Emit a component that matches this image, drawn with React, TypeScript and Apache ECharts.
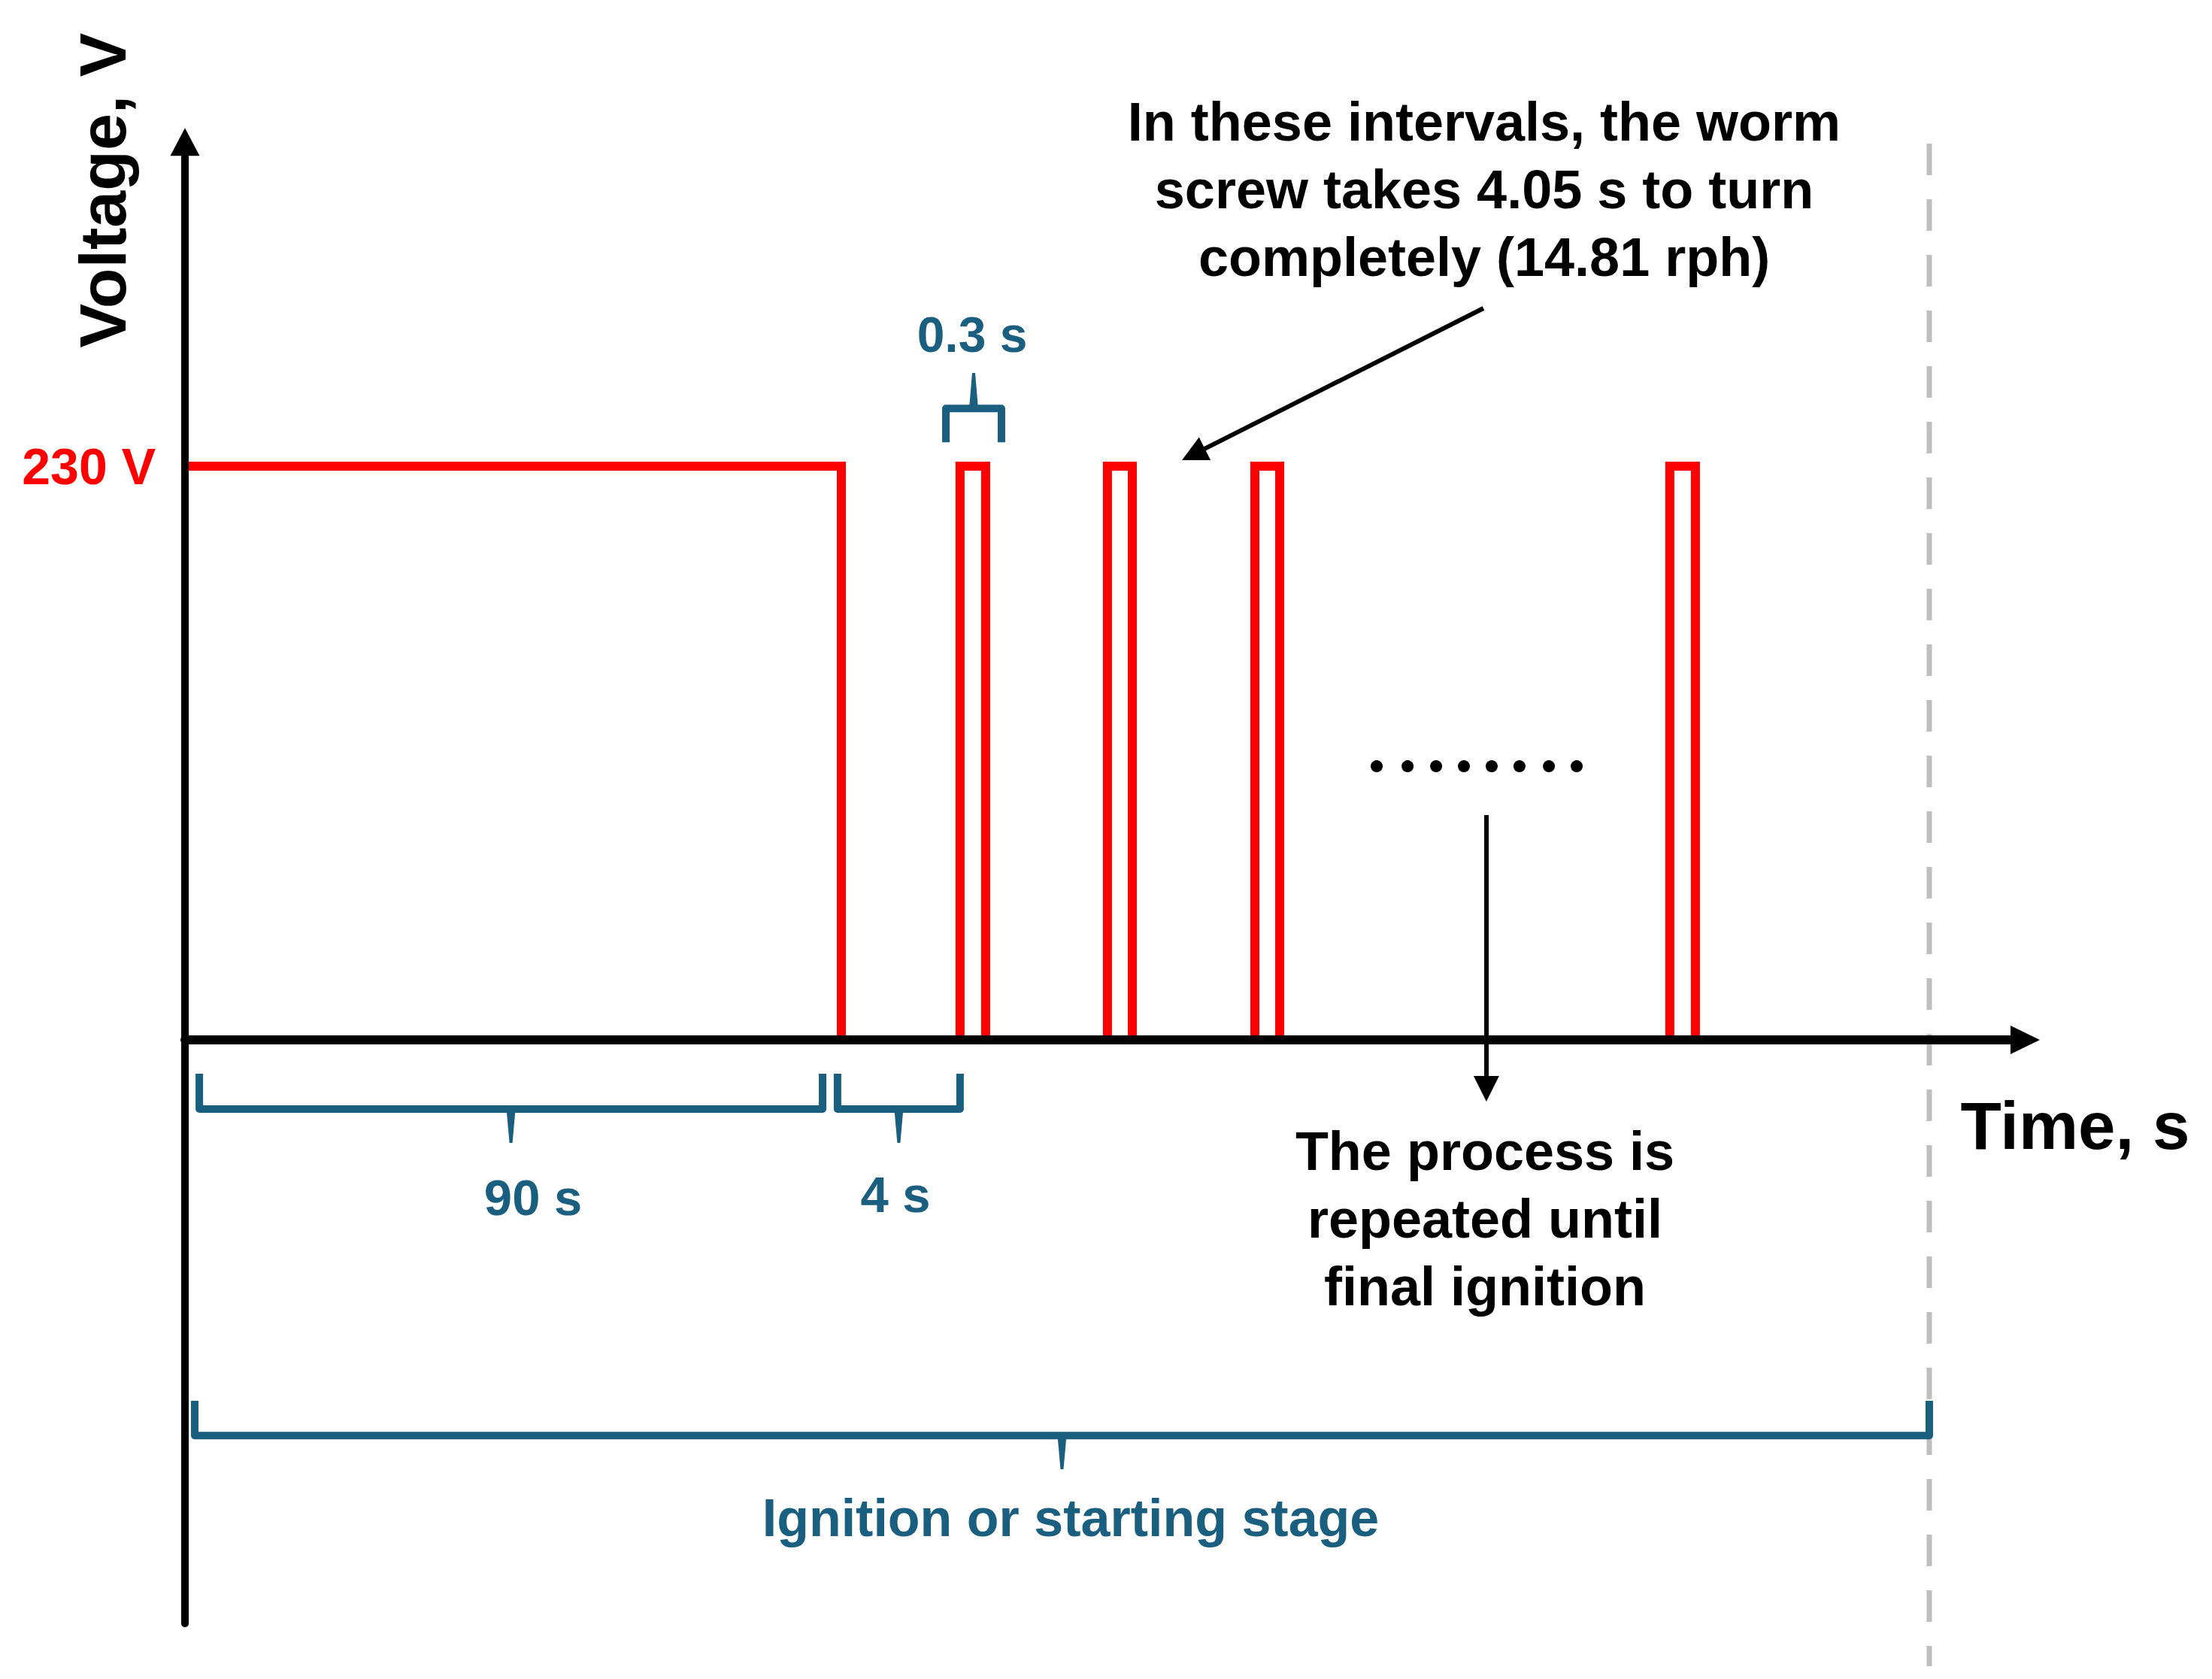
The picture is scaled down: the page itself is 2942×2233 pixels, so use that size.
import React, { useEffect, useRef } from "react";
import * as echarts from "echarts";

const FONT = '"Liberation Sans", Arial, Helvetica, sans-serif';
const RED = "#ff0000";
const BLUE = "#1a5e80";
const GRAY = "#bfbfbf";

// ---- axes (schematic, not to scale) ----
const xMin = 0;
const xMax = 100;
const yMin = -234;
const yMax = 360;
const yLabelValues = [230];

// ---- voltage trace ----
const supplyVoltage = 230;
const preheatEnd = 35.67;
const pulseStarts = [42.12, 50.13, 58.14, 80.69];
const pulseEnds = [43.51, 51.48, 59.49, 82.08];

// ---- end of ignition stage (dashed marker) ----
const stageEnd = 94.79;
const stageLineTop = 359.3;
const stageLineBottom = -251.1;

// ---- "......" dots ----
const dotXs = [64.76, 66.44, 67.99, 69.5, 71.01, 72.52, 74.12, 75.63];
const dotY = 109.7;

// ---- braces ----
const braceLabels = ["0.3 s", "90 s", "4 s", "Ignition or starting stage"];
const braceStarts = [41.35, 0.78, 35.46, 0.53];
const braceEnds = [44.37, 34.65, 42.12, 94.79];
const braceLegY = [239.6, -13.6, -13.6, -144.7];
const braceBarY = [253.1, -27.7, -27.7, -158.6];
const braceTipY = [267.4, -41.3, -41.3, -172.1];
const braceLabelX = [42.78, 18.92, 38.61, 48.13];
const braceLabelY = [282.8, -63.0, -61.8, -191.7];
const braceLabelSize = [66, 67, 67, 70];

// ---- annotation arrows ----
const arrowFrom = [
  [70.56, 293.3],
  [70.72, 90.1],
];
const arrowTo = [
  [54.8, 234.7],
  [70.72, -19.6],
];

// ---- texts ----
const yAxisTitle = "Voltage, V";
const xAxisTitle = "Time, s";
const noteTop = [
  "In these intervals, the worm",
  "screw takes 4.05 s to turn",
  "completely (14.81 rph)",
];
const noteBottom = ["The process is", "repeated until", "final ignition"];

export default function App() {
  const ref = useRef<HTMLDivElement>(null);

  useEffect(() => {
    if (!ref.current) return;
    const chart = echarts.init(ref.current, undefined, { renderer: "svg" });

    const redLine = {
      color: RED,
      width: 12,
      join: "miter" as const,
      cap: "butt" as const,
    };

    const traceSeries: any[] = [
      {
        type: "line",
        symbol: "none",
        silent: true,
        lineStyle: redLine,
        data: [
          [xMin, supplyVoltage],
          [preheatEnd, supplyVoltage],
          [preheatEnd, 0],
        ],
        z: 2,
      },
      ...pulseStarts.map((s, i) => ({
        type: "line",
        symbol: "none",
        silent: true,
        lineStyle: redLine,
        data: [
          [s, 0],
          [s, supplyVoltage],
          [pulseEnds[i], supplyVoltage],
          [pulseEnds[i], 0],
        ],
        z: 2,
      })),
    ];

    const braceData = braceStarts.map((s, i) => [
      s,
      braceEnds[i],
      braceLegY[i],
      braceBarY[i],
      braceTipY[i],
      braceLabelX[i],
      braceLabelY[i],
    ]);

    const option: any = {
      animation: false,
      backgroundColor: "#ffffff",
      grid: {
        left: 246,
        top: 188.7,
        width: 2447.5,
        height: 1970.6,
        containLabel: false,
      },
      xAxis: {
        type: "value",
        min: xMin,
        max: xMax,
        z: 5,
        axisLine: {
          show: true,
          onZero: true,
          symbol: ["none", "triangle"],
          symbolSize: [38, 39],
          lineStyle: { color: "#000", width: 12 },
        },
        axisTick: { show: false },
        axisLabel: { show: false },
        splitLine: { show: false },
      },
      yAxis: {
        type: "value",
        min: yMin,
        max: yMax,
        z: 5,
        axisLine: {
          show: true,
          onZero: false,
          symbol: ["none", "triangle"],
          symbolSize: [39, 37],
          lineStyle: { color: "#000", width: 10 },
        },
        axisTick: { show: false },
        splitLine: { show: false },
        axisLabel: {
          show: true,
          customValues: yLabelValues,
          formatter: (v: number) => `${v} V`,
          color: RED,
          fontFamily: FONT,
          fontWeight: "bold",
          fontSize: 68,
          margin: 39,
          padding: [0, 0, 20, 0],
        },
      },
      series: [
        ...traceSeries,
        {
          type: "line",
          symbol: "none",
          silent: true,
          clip: false,
          lineStyle: { color: GRAY, width: 7, type: [42, 32] },
          data: [
            [stageEnd, stageLineTop],
            [stageEnd, stageLineBottom],
          ],
          z: 1,
        },
        {
          type: "scatter",
          silent: true,
          symbol: "circle",
          symbolSize: 16,
          itemStyle: { color: "#000", opacity: 1 },
          data: dotXs.map((x) => [x, dotY]),
          markLine: {
            silent: true,
            symbol: ["none", "triangle"],
            symbolSize: 34,
            label: { show: false },
            lineStyle: { color: "#000", width: 6, type: "solid", opacity: 1 },
            itemStyle: { color: "#000", opacity: 1 },
            emphasis: { disabled: true },
            data: arrowFrom.map((f, i) => [
              { coord: f },
              { coord: arrowTo[i] },
            ]),
          },
        },
        {
          type: "custom",
          silent: true,
          clip: false,
          encode: { x: [0, 1, 5], y: [2, 3, 4, 6] },
          data: braceData,
          renderItem: (params: any, api: any) => {
            const x0 = api.value(0);
            const x1 = api.value(1);
            const yl = api.value(2);
            const yb = api.value(3);
            const yt = api.value(4);
            const lx = api.value(5);
            const ly = api.value(6);
            const pL = api.coord([x0, yl]);
            const pB0 = api.coord([x0, yb]);
            const pB1 = api.coord([x1, yb]);
            const pR = api.coord([x1, yl]);
            const xc = (pB0[0] + pB1[0]) / 2;
            const pT = api.coord([(x0 + x1) / 2, yt]);
            const lab = api.coord([lx, ly]);
            const idx = params.dataIndex;
            return {
              type: "group",
              children: [
                {
                  type: "polyline",
                  shape: { points: [pL, pB0, pB1, pR] },
                  style: {
                    stroke: BLUE,
                    lineWidth: 10,
                    fill: null,
                    lineJoin: "round",
                  },
                },
                {
                  type: "polygon",
                  shape: {
                    points: [
                      [xc - 6, pB0[1]],
                      [xc + 6, pB0[1]],
                      [xc + 2, pT[1]],
                      [xc - 2, pT[1]],
                    ],
                  },
                  style: { fill: BLUE },
                },
                {
                  type: "text",
                  x: lab[0],
                  y: lab[1],
                  style: {
                    text: braceLabels[idx],
                    fill: BLUE,
                    font: `bold ${braceLabelSize[idx]}px ${FONT}`,
                    textAlign: "center",
                    textVerticalAlign: "middle",
                    align: "center",
                    verticalAlign: "middle",
                  },
                },
              ],
            };
          },
        },
      ],
      graphic: [
        {
          type: "text",
          x: 136,
          y: 253,
          rotation: Math.PI / 2,
          style: {
            text: yAxisTitle,
            fill: "#000",
            font: `bold 88px ${FONT}`,
            textAlign: "center",
            textVerticalAlign: "middle",
          },
        },
        {
          type: "text",
          x: 2760,
          y: 1497,
          style: {
            text: xAxisTitle,
            fill: "#000",
            font: `bold 89px ${FONT}`,
            textAlign: "center",
            textVerticalAlign: "middle",
          },
        },
        {
          type: "text",
          x: 1974,
          y: 252,
          style: {
            text: noteTop.join("\n"),
            fill: "#000",
            font: `bold 72px ${FONT}`,
            lineHeight: 90,
            textAlign: "center",
            textVerticalAlign: "middle",
          },
        },
        {
          type: "text",
          x: 1975,
          y: 1621,
          style: {
            text: noteBottom.join("\n"),
            fill: "#000",
            font: `bold 72px ${FONT}`,
            lineHeight: 90,
            textAlign: "center",
            textVerticalAlign: "middle",
          },
        },
      ],
    };

    chart.setOption(option);
    return () => chart.dispose();
  }, []);

  return (
    <div
      ref={ref}
      style={{
        position: "fixed",
        left: 0,
        top: 0,
        width: 2942,
        height: 2233,
        background: "#fff",
      }}
    />
  );
}
